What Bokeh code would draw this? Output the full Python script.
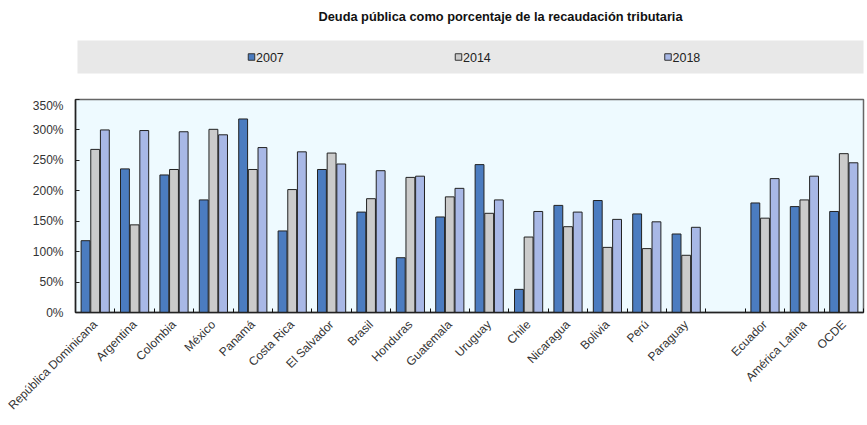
import math
from bokeh.plotting import figure
from bokeh.layouts import column
from bokeh.models import Range1d, FixedTicker, PrintfTickFormatter
from bokeh.core.properties import value
from bokeh.embed import file_html
from bokeh.resources import INLINE

# ---------------- data ----------------
categories = ["República Dominicana", "Argentina", "Colombia", "México", "Panamá",
              "Costa Rica", "El Salvador", "Brasil", "Honduras", "Guatemala",
              "Uruguay", "Chile", "Nicaragua", "Bolivia", "Perú", "Paraguay",
              "Ecuador", "América Latina", "OCDE"]
gap_after = "Paraguay"
v2007 = [118, 236, 226, 185, 318, 134, 235, 165, 90, 157, 243, 38, 176, 184, 162, 129, 180, 174, 166]
v2014 = [268, 144, 235, 301, 235, 202, 262, 187, 222, 190, 163, 124, 141, 107, 105, 94, 155, 185, 261]
v2018 = [300, 299, 297, 292, 271, 264, 244, 233, 224, 204, 185, 166, 165, 153, 149, 140, 220, 224, 246]
series_names = ["2007", "2014", "2018"]
y_ticks = [0, 50, 100, 150, 200, 250, 300, 350]
title_text = "Deuda pública como porcentaje de la recaudación tributaria"

# ---------------- styles ----------------
colors = ["#4b7cc0", "#cbcbcb", "#a8b8e6"]
FONT = "Liberation Sans"
W = 867
LEFT, RIGHT = 75, 4

# slot positions (one empty slot after gap_after)
slots = []
s = 0
for c in categories:
    slots.append(s)
    s += 1
    if c == gap_after:
        s += 1
n_slots = s
centers = [x + 0.5 for x in slots]

# ---------------- top (title + legend band) ----------------
top_h = 98
top = figure(width=W, height=top_h, x_range=Range1d(LEFT, W - RIGHT), y_range=Range1d(top_h, 0),
             output_backend="svg", toolbar_location=None,
             min_border_left=LEFT, min_border_right=RIGHT, min_border_top=0, min_border_bottom=0)
top.axis.visible = False
top.grid.visible = False
top.outline_line_color = None
top.text(x=[500], y=[16], text=[title_text], text_align="center", text_baseline="middle",
         text_font=value(FONT), text_font_style="bold", text_font_size="12.8px", text_color="#111111")
top.quad(left=[77], right=[W], top=[40], bottom=[73], fill_color="#e8e8e8", line_color=None)
leg_x = [251, 458, 667.5]
for lx, name, col in zip(leg_x, series_names, colors):
    top.rect(x=[lx], y=[56.5], width=6.5, height=6.5, fill_color=col, line_color="#333333", line_width=1)
    top.text(x=[lx + 4.5], y=[56.5], text=[name], text_align="left", text_baseline="middle",
             text_font=value(FONT), text_font_size="12.5px", text_color="#222222")

# ---------------- main chart ----------------
main_h = 425 - top_h
p = figure(width=W, height=main_h, x_range=Range1d(0, n_slots), y_range=Range1d(0, 350),
           output_backend="svg", toolbar_location=None,
           min_border_left=LEFT, min_border_right=RIGHT, min_border_top=1, min_border_bottom=main_h - 214)
p.background_fill_color = "#eefaff"
p.grid.visible = False
p.outline_line_color = "#666666"
p.outline_line_width = 1.5

offsets = [-0.245, 0.0, 0.245]
bw = 0.225
for vals, off, col in zip([v2007, v2014, v2018], offsets, colors):
    p.vbar(x=[c + off for c in centers], top=vals, width=bw, bottom=0,
           fill_color=col, line_color="#222222", line_width=1)

xa = p.xaxis[0]
xa.ticker = FixedTicker(ticks=centers, minor_ticks=list(range(0, n_slots + 1)))
xa.major_label_overrides = {c: name for c, name in zip(centers, categories)}
xa.major_label_orientation = math.pi / 4
xa.major_tick_line_color = None
xa.minor_tick_in = 4
xa.minor_tick_out = 0
xa.minor_tick_line_color = "#111111"
xa.axis_line_color = "#222222"
xa.axis_line_width = 1.5
xa.major_label_text_font = FONT
xa.major_label_text_font_size = "12px"
xa.major_label_text_color = "#333333"
xa.major_label_standoff = 4

ya = p.yaxis[0]
ya.ticker = FixedTicker(ticks=y_ticks)
ya.formatter = PrintfTickFormatter(format="%d%%")
ya.major_tick_in = 4
ya.major_tick_out = 0
ya.minor_tick_line_color = None
ya.major_tick_line_color = "#222222"
ya.axis_line_color = "#222222"
ya.axis_line_width = 1.5
ya.major_label_text_font = FONT
ya.major_label_text_font_size = "12px"
ya.major_label_text_color = "#333333"
ya.major_label_standoff = 12

layout = column(top, p, spacing=0)
open("out.html", "w").write(file_html(layout, INLINE))
